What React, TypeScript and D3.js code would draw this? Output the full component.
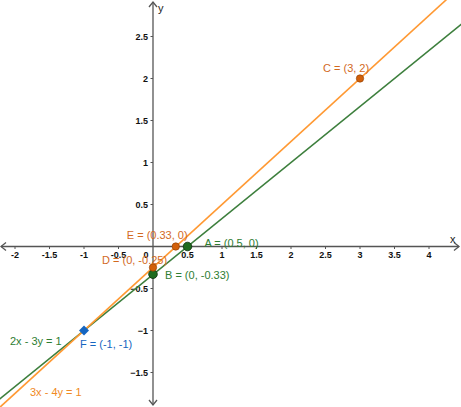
import * as d3 from "d3";
import React from "react";

// chart values
const xTicks = [-2, -1.5, -1, -0.5, 0.5, 1, 1.5, 2, 2.5, 3, 3.5, 4];
const yTicks = [-1.5, -1, -0.5, 0.5, 1, 1.5, 2, 2.5];
const lineNames = ["2x - 3y = 1", "3x - 4y = 1"];
// a*x - b*y = c
const lineA = [2, 3];
const lineB = [3, 4];
const lineC = [1, 1];
const pointNames = ["A", "B", "C", "D", "E", "F"];
const pointX = [0.5, 0, 3, 0, 0.33, -1];
const pointY = [0, -0.33, 2, -0.25, 0, -1];
const pointLine = [0, 0, 1, 1, 1, -1]; // which line a point belongs to, -1 = intersection

const W = 461;
const H = 407;

export default function App() {
  const x = d3.scaleLinear().domain([-153 / 69, (W - 153) / 69]).range([0, W]);
  const y = d3.scaleLinear().domain([-(H - 246.5) / 84, 246.5 / 84]).range([H, 0]);

  const lineColor = ["#3d7f3d", "#ff9933"];
  const pointFill = ["#1e6b1e", "#d2600a", "#1565c0"];
  const labelColor = ["#2e7d32", "#d2691e", "#1565c0"];

  // label offsets in px from the point
  const labelOff: { [k: string]: [number, number] } = {
    A: [17, 0], B: [12, 5], C: [-37, -7], D: [-51, -4], E: [-49, -8], F: [-4, 17],
  };

  const xd = x.domain();
  const eqLines = lineNames.map((_, i) => {
    const fn = (v: number) => (lineA[i] * v - lineC[i]) / lineB[i];
    return d3.line<number>().x(v => x(v)).y(v => y(fn(v)))([xd[0] - 1, xd[1] + 1]) || "";
  });

  const x0 = x(0);
  const y0 = y(0);
  const axisCol = "#555";

  return (
    <svg width={W} height={H} style={{ position: "fixed", left: 0, top: 0, background: "#fff" }}
      fontFamily="Liberation Sans, Arial, sans-serif">
      {/* axes */}
      <line x1={1} x2={W - 2} y1={y0} y2={y0} stroke={axisCol} strokeWidth={1.3} />
      <line x1={x0} x2={x0} y1={2} y2={H - 2} stroke={axisCol} strokeWidth={1.3} />
      <path d={`M${W - 7},${y0 - 4}L${W - 2},${y0}L${W - 7},${y0 + 4}`} fill="none" stroke={axisCol} strokeWidth={1.3} />
      <path d={`M6,${y0 - 4}L1,${y0}L6,${y0 + 4}`} fill="none" stroke={axisCol} strokeWidth={1.3} />
      <path d={`M${x0 - 4},7L${x0},2L${x0 + 4},7`} fill="none" stroke={axisCol} strokeWidth={1.3} />
      <path d={`M${x0 - 4},${H - 7}L${x0},${H - 2}L${x0 + 4},${H - 7}`} fill="none" stroke={axisCol} strokeWidth={1.3} />
      <text x={W - 11} y={y0 - 4} fontSize={11} fill="#222">x</text>
      <text x={x0 + 5} y={12} fontSize={11} fill="#222">y</text>

      {xTicks.map(t => (
        <g key={"x" + t}>
          <line x1={x(t)} x2={x(t)} y1={y0} y2={y0 + 2.5} stroke={axisCol} />
          <text x={x(t)} y={y0 + 11} fontSize={9} fontWeight="bold" textAnchor="middle" fill="#111">{t}</text>
        </g>
      ))}
      <text x={x0 - 7} y={y0 + 11} fontSize={9} fontWeight="bold" textAnchor="middle" fill="#111">0</text>
      {yTicks.map(t => (
        <g key={"y" + t}>
          <line x1={x0 - 2.5} x2={x0} y1={y(t)} y2={y(t)} stroke={axisCol} />
          <text x={x0 - 5} y={y(t) + 3} fontSize={9} fontWeight="bold" textAnchor="end" fill="#111">
            {t < 0 ? "\u2212" + Math.abs(t) : t}
          </text>
        </g>
      ))}

      {/* equation lines */}
      {eqLines.map((d, i) => (
        <path key={i} d={d} fill="none" stroke={lineColor[i]} strokeWidth={1.6} />
      ))}
      <text x={10} y={345} fontSize={11} fill={labelColor[0]}>{lineNames[0]}</text>
      <text x={30} y={396} fontSize={11} fill="#f08a24">{lineNames[1]}</text>

      {/* points */}
      {pointNames.map((n, i) => {
        const px = x(pointX[i]);
        const py = y(pointY[i]);
        const g = pointLine[i] < 0 ? 2 : pointLine[i];
        const label = `${n} = (${pointX[i]}, ${pointY[i]})`;
        const [dx, dy] = labelOff[n];
        return (
          <g key={n}>
            {g === 2 ? (
              <path d={`M${px},${py - 5}L${px + 5},${py}L${px},${py + 5}L${px - 5},${py}Z`} fill={pointFill[2]} />
            ) : g === 0 ? (
              <circle cx={px} cy={py} r={4.3} fill={pointFill[0]} stroke="#0b2e0b" strokeWidth={0.8} />
            ) : (
              <circle cx={px} cy={py} r={3.7} fill={pointFill[1]} stroke="#8a3a00" strokeWidth={0.6} />
            )}
            <text x={px + dx} y={py + dy} fontSize={11} fill={labelColor[g]}>{label}</text>
          </g>
        );
      })}
    </svg>
  );
}
